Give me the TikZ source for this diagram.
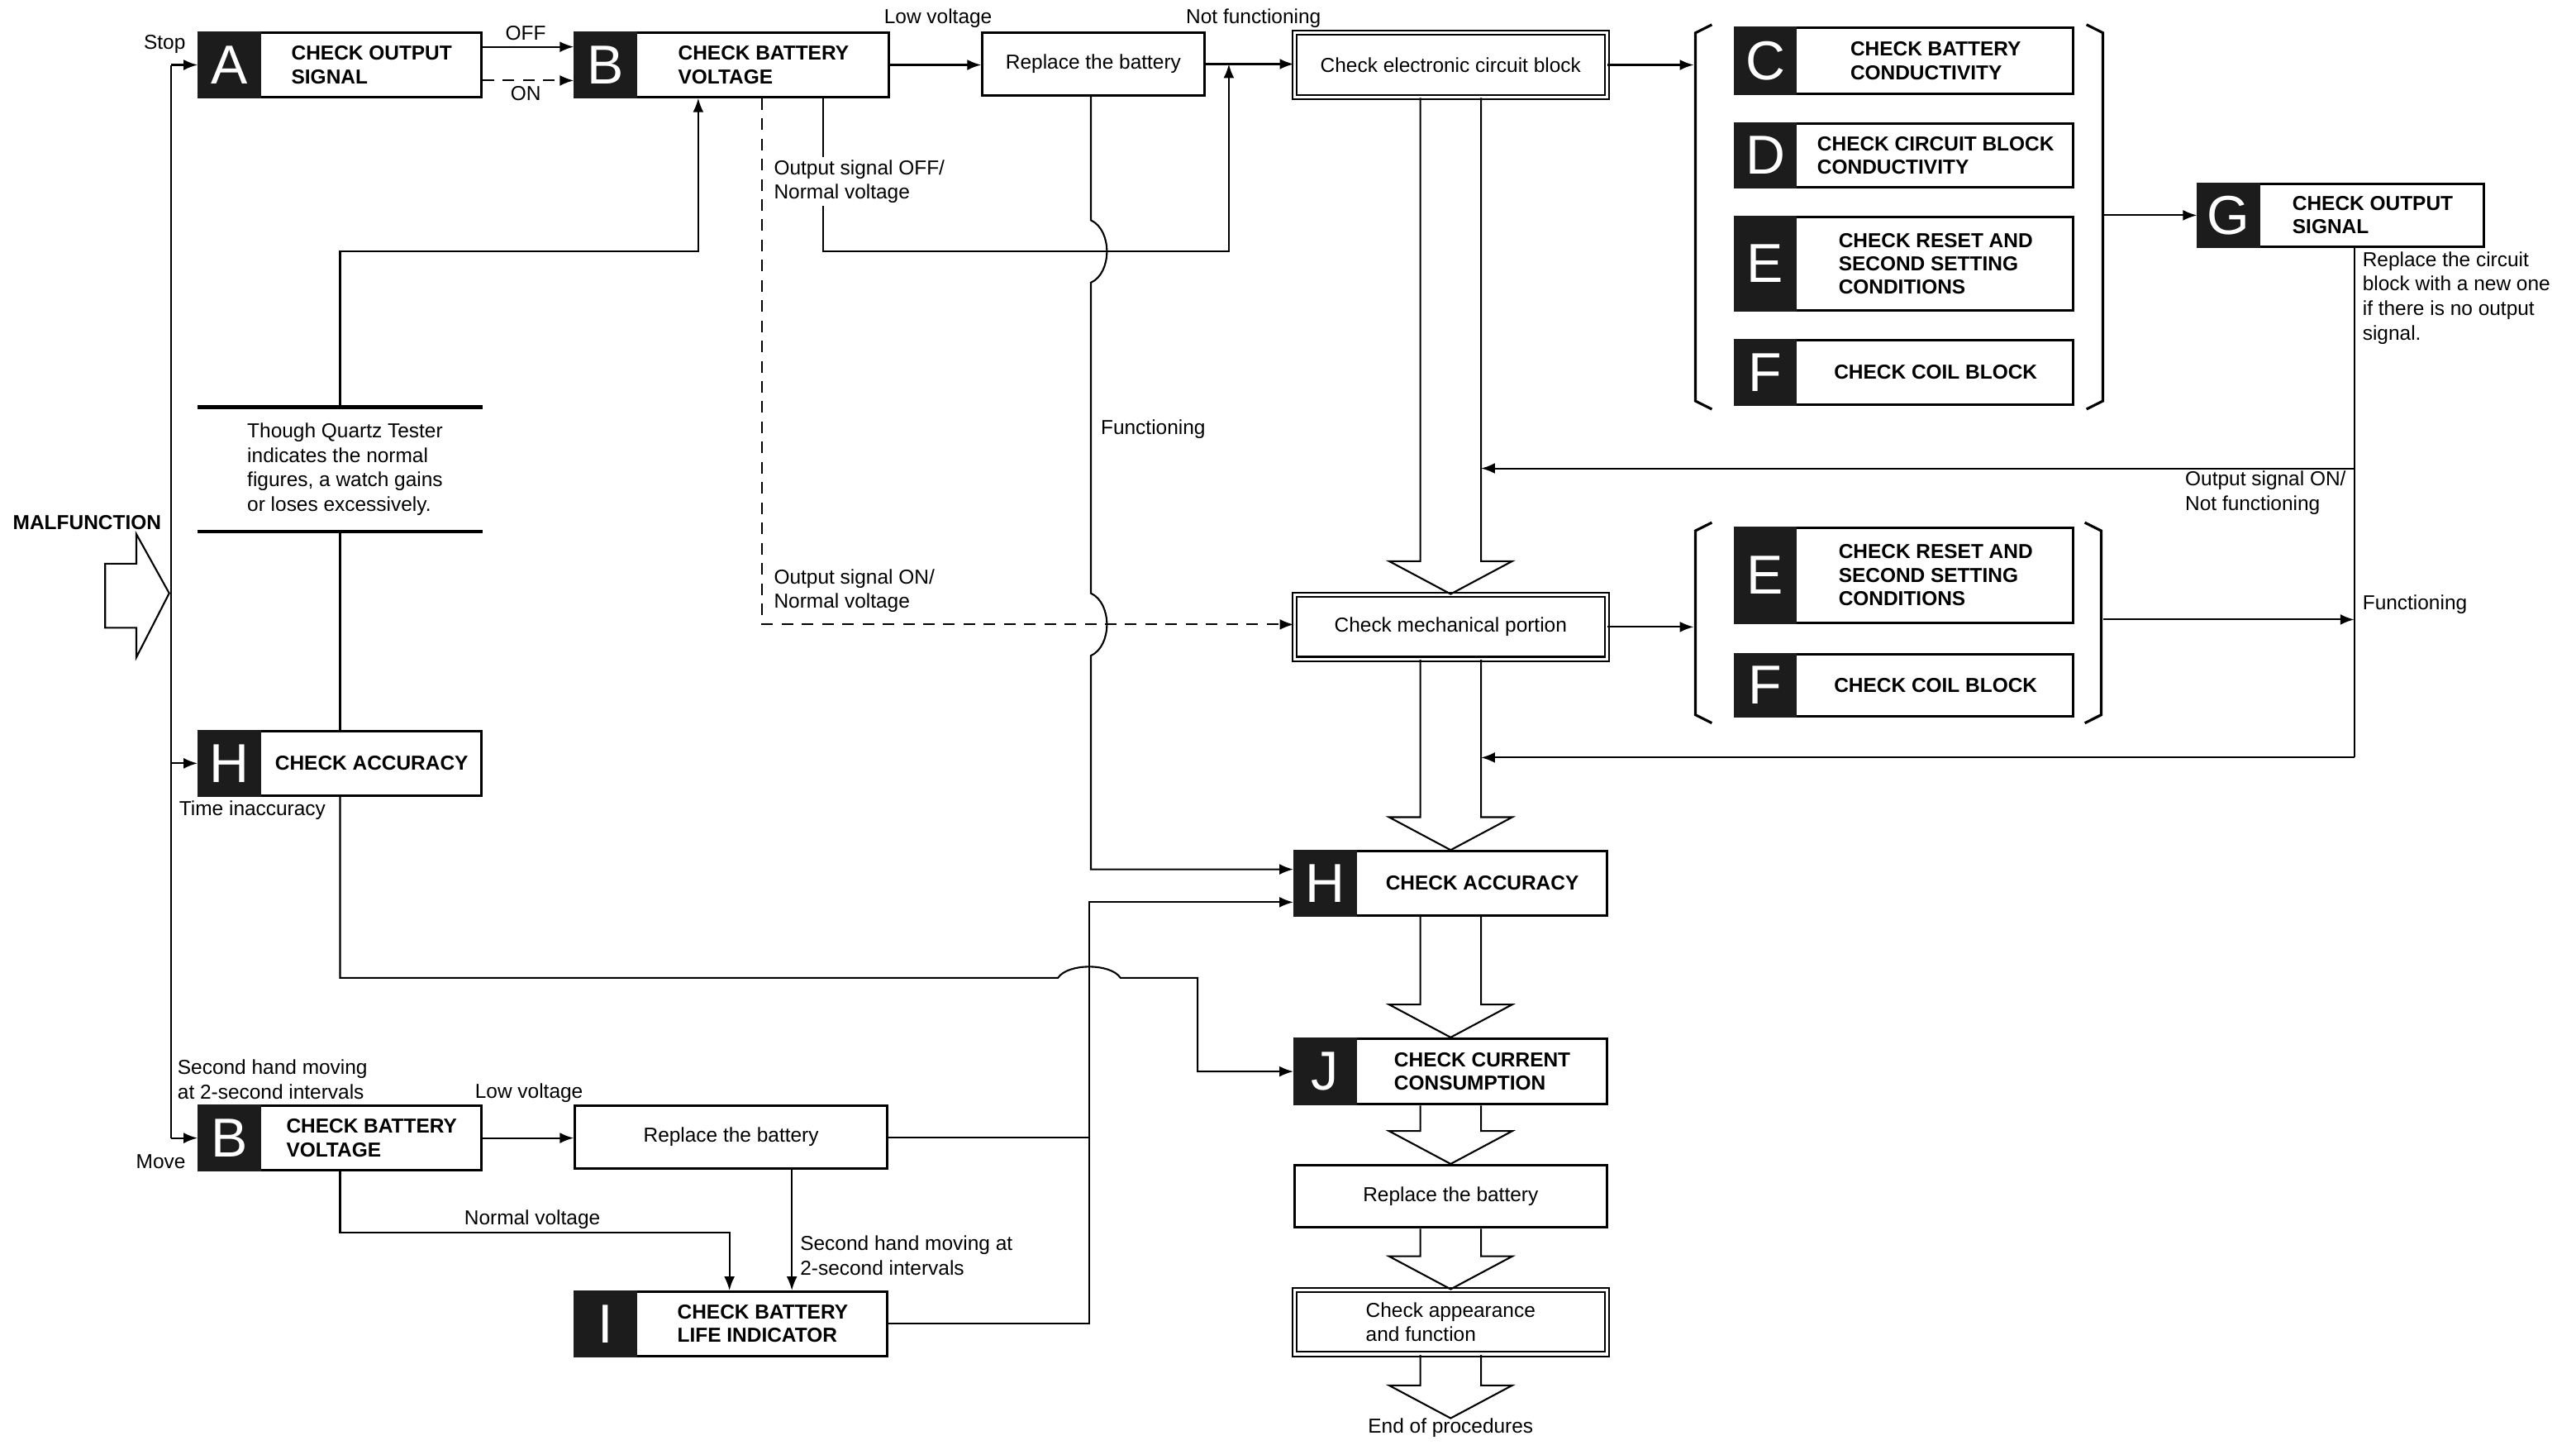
\documentclass[tikz,border=0pt]{standalone}
\usepackage{fontspec}
\setmainfont{Liberation Sans}
\usetikzlibrary{arrows.meta,positioning,calc}
\definecolor{blk}{RGB}{28,28,28}
\newcommand{\px}{0.02cm}
\newcommand{\lblfont}{\fontsize{7}{8.5}\selectfont}
\newcommand{\capfont}{\fontsize{7}{8.1}\selectfont\bfseries}
\newcommand{\ltrfont}{\fontsize{19}{19}\selectfont}
\tikzset{
  boxnd/.style={draw, line width=0.85pt, inner sep=0pt, font=\lblfont, align=center},
  dblnd/.style={boxnd, double, double distance=0.9pt, line width=0.6pt, align=left},
  connln/.style={line width=0.6pt},
  arrln/.style={-{Latex[length=1.7mm,width=1.3mm]}, line width=0.6pt},
  dashln/.style={arrln, dash pattern=on 4pt off 3pt},
  lbl/.style={font=\lblfont, inner sep=1pt, align=left},
  capt/.style={font=\capfont, inner sep=0pt, align=left},
  ltr/.style={white, font=\ltrfont, inner sep=0pt},
  brkln/.style={line width=0.9pt},
  noteln/.style={line width=1.3pt},
}
% box with dark letter block on the left
\newcommand{\ltrbox}[7]{%
  \node[boxnd, minimum width=#5*\px, minimum height=#6*\px] (#1) at (#3,#4) {};
  \fill[blk] (#1.north west) rectangle ([xshift=0.77cm]#1.south west);
  \node[ltr] (#1l) at ([xshift=0.385cm]#1.west) {#2};
  \node[capt] (#1t) at ($([xshift=0.77cm]#1.west)!0.5!(#1.east)$) {#7};
}
% hollow block arrow between two boxes
\newcommand{\bigarr}[2]{%
  \draw[connln] ($(#1.south)+(-18.5,0)$) -- ($(#2.north)+(-18.5,-20)$) -- ($(#2.north)+(-37.5,-20)$)
    -- (#2.north) -- ($(#2.north)+(37.5,-20)$) -- ($(#2.north)+(18.5,-20)$) -- ($(#1.south)+(18.5,0)$);
}
% bracket pair round a group of boxes
\newcommand{\brk}[4]{%
  \draw[brkln] ({#1+10},#3) -- (#1,{#3+5}) -- (#1,{#4-5}) -- ({#1+10},#4);
  \draw[brkln] ({#2-10},#3) -- (#2,{#3+5}) -- (#2,{#4-5}) -- ({#2-10},#4);
}

\begin{document}
\begin{tikzpicture}[x=0.02cm, y=-0.02cm]
  \fill[white] (0,0) rectangle (1568,882);
  % left column
  \ltrbox{A}{A}{207}{39.5}{172}{39}{CHECK OUTPUT\\SIGNAL}
  \ltrbox{hl}{H}{207}{464.5}{172}{39}{CHECK ACCURACY}
  \ltrbox{B2}{B}{207}{692.5}{172}{39}{CHECK BATTERY\\VOLTAGE}
  \node[lbl, minimum height=75*\px] (note) at (210,285.5)
    {Though Quartz Tester\\indicates the normal\\figures, a watch gains\\or loses excessively.};
  \draw[noteln] (note.north -| A.west) -- (note.north -| A.east);
  \draw[noteln] (note.south -| A.west) -- (note.south -| A.east);
  % top row
  \ltrbox{B1}{B}{445.5}{39.5}{191}{39}{CHECK BATTERY\\VOLTAGE}
  \node[boxnd, minimum width=135*\px, minimum height=38*\px] (rep1) at (665.5,39) {Replace the battery};
  \node[dblnd, minimum width=190*\px, minimum height=39*\px] (ecb) at (883,39.5) {Check electronic circuit block};
  % right groups
  \ltrbox{C}{C}{1159}{37}{206}{40}{CHECK BATTERY\\CONDUCTIVITY}
  \ltrbox{D}{D}{1159}{94.5}{206}{39}{CHECK CIRCUIT BLOCK\\CONDUCTIVITY}
  \ltrbox{E}{E}{1159}{160.5}{206}{57}{CHECK RESET AND\\SECOND SETTING\\CONDITIONS}
  \ltrbox{F}{F}{1159}{226.5}{206}{39}{CHECK COIL BLOCK}
  \brk{1032}{1280}{15}{249}
  \ltrbox{G}{G}{1425}{131}{174}{38}{CHECK OUTPUT\\SIGNAL}
  \ltrbox{E2}{E}{1159}{350}{206}{58}{CHECK RESET AND\\SECOND SETTING\\CONDITIONS}
  \ltrbox{F2}{F}{1159}{417}{206}{38}{CHECK COIL BLOCK}
  \brk{1032}{1279}{318}{440}
  % centre column
  \node[dblnd, minimum width=190*\px, minimum height=39*\px] (mech) at (883,381.5) {Check mechanical portion};
  \ltrbox{h2}{H}{883}{537.5}{190}{39}{CHECK ACCURACY}
  \ltrbox{J}{J}{883}{652}{190}{40}{CHECK CURRENT\\CONSUMPTION}
  \node[boxnd, minimum width=190*\px, minimum height=38*\px] (rep3) at (883,728) {Replace the battery};
  \node[dblnd, minimum width=190*\px, minimum height=39*\px] (app) at (883,804.5) {Check appearance\\and function};
  \node[lbl, anchor=north, inner sep=0pt] (endp) at (883,863) {End of procedures};
  \bigarr{ecb}{mech}
  \bigarr{mech}{h2}
  \bigarr{h2}{J}
  \bigarr{J}{rep3}
  \bigarr{rep3}{app}
  \bigarr{app}{endp}
  % bottom row
  \node[boxnd, minimum width=190*\px, minimum height=38*\px] (rep2) at (445,692) {Replace the battery};
  \ltrbox{I}{I}{445}{805.5}{190}{39}{CHECK BATTERY\\LIFE INDICATOR}

  % malfunction arrow and trunk
  \node[lbl, font=\lblfont\bfseries] (malf) at (53,318) {MALFUNCTION};
  \draw[connln] (64,343) -- (83,343) -- (83,325) -- (103,361) -- (83,400) -- (83,382) -- (64,382) -- cycle;
  \coordinate (tk) at (104,0);
  \draw[connln] (tk |- A.west) -- (tk |- B2.west);
  \draw[arrln] (tk |- A.west) -- (A.west);
  \draw[arrln] (tk |- hl.west) -- (hl.west);
  \draw[arrln] (tk |- B2.west) -- (B2.west);
  \node[lbl, anchor=east] (lstop) at (115,27) {Stop};
  \node[lbl, anchor=east] (lmove) at (115,707) {Move};
  \node[lbl, anchor=west] (ltime) at (107,493) {Time inaccuracy};
  \node[lbl, anchor=west] (lsec1) at (106,657) {Second hand moving\\at 2-second intervals};

  % A to B
  \draw[arrln] ($(A.east)+(0,-11)$) -- ($(B1.west)+(0,-11)$);
  \draw[dashln] ($(A.east)+(0,9.5)$) -- ($(B1.west)+(0,9.5)$);
  \node[lbl] (loff) at (320,20) {OFF};
  \node[lbl] (lon) at (320,57) {ON};

  % B to battery and circuit block
  \draw[arrln] (B1.east) -- (B1.east -| rep1.west);
  \draw[arrln] (rep1.east) -- (rep1.east -| ecb.west);
  \node[lbl] (llow1) at (571,11) {Low voltage};
  \node[lbl] (lnf1) at (763,11) {Not functioning};
  \coordinate (bl) at (1031,0);
  \coordinate (brr) at (1280,0);
  \draw[arrln] (ecb.east) -- (ecb.east -| bl);
  \draw[arrln] (G.west -| brr) -- (G.west);
  \draw[arrln] (mech.east) -- (mech.east -| bl);

  % B outputs
  \coordinate (ox) at (501,153);
  \coordinate (oy) at (748,153);
  \draw[arrln] (B1.south -| ox) -- (ox) -- (oy) -- (oy |- rep1.east);
  \node[lbl, fill=white, anchor=west] (loff2) at (469,110.5) {Output signal OFF/\\Normal voltage};
  \coordinate (dx) at (464,380);
  \draw[dashln] (B1.south -| dx) -- (dx) -- (dx -| mech.west);
  \node[lbl, anchor=west] (lon2) at (469,359.5) {Output signal ON/\\Normal voltage};

  % note path
  \coordinate (nb) at (425,153);
  \draw[connln] (hl.north) -- (hl.north |- note.south);
  \draw[arrln] (hl.north |- note.north) |- (nb) -- (nb |- B1.south);

  % functioning line with hops
  \coordinate (fx) at (664,0);
  \coordinate (fa) at (664,529);
  \draw[arrln] (rep1.south -| fx) -- (664,134) .. controls (677,140) and (677,166) .. (664,172)
    -- (664,361) .. controls (677,367) and (677,393) .. (664,399) -- (fa) -- (fa -| h2.west);
  \node[lbl, anchor=west] (lfun1) at (668,261) {Functioning};

  % G column
  \coordinate (shr) at (901.5,0);
  \coordinate (gon) at (1433,285);
  \coordinate (gfn) at (1433,377);
  \coordinate (gbt) at (1433,461);
  \draw[connln] (G.south -| gon) -- (gbt);
  \draw[arrln] (gon) -- (gon -| shr);
  \draw[arrln] (gbt) -- (gbt -| shr);
  \draw[arrln] (gfn -| brr) -- (gfn);
  \node[lbl, anchor=north west] (lrep) at (1436,151) {Replace the circuit\\block with a new one\\if there is no output\\signal.};
  \node[lbl, anchor=east] (lonf) at (1430,300) {Output signal ON/\\Not functioning};
  \node[lbl, anchor=west] (lfun2) at (1436,368) {Functioning};

  % time inaccuracy path
  \coordinate (ta) at (207,595);
  \coordinate (tb) at (729,595);
  \draw[arrln] (hl.south) -- (ta) -- (644,595) .. controls (650,586) and (676,586) .. (682,595) -- (tb) |- (J.west);

  % bottom row
  \draw[arrln] (B2.east) -- (B2.east -| rep2.west);
  \node[lbl] (llow2) at (322,665) {Low voltage};
  \coordinate (nv) at (444,750);
  \draw[arrln] (B2.south) |- (nv) -- (nv |- I.north);
  \node[lbl] (lnv) at (324,742) {Normal voltage};
  \coordinate (sx) at (482,0);
  \draw[arrln] (rep2.south -| sx) -- (sx |- I.north);
  \node[lbl, anchor=west] (lsec2) at (485,764) {Second hand moving at\\2-second intervals};
  \coordinate (vx) at (663,0);
  \coordinate (fb) at (663,549);
  \draw[connln] (rep2.east) -- (rep2.east -| vx);
  \draw[arrln] (I.east) -| (fb) -- (fb -| h2.west);
\end{tikzpicture}
\end{document}
